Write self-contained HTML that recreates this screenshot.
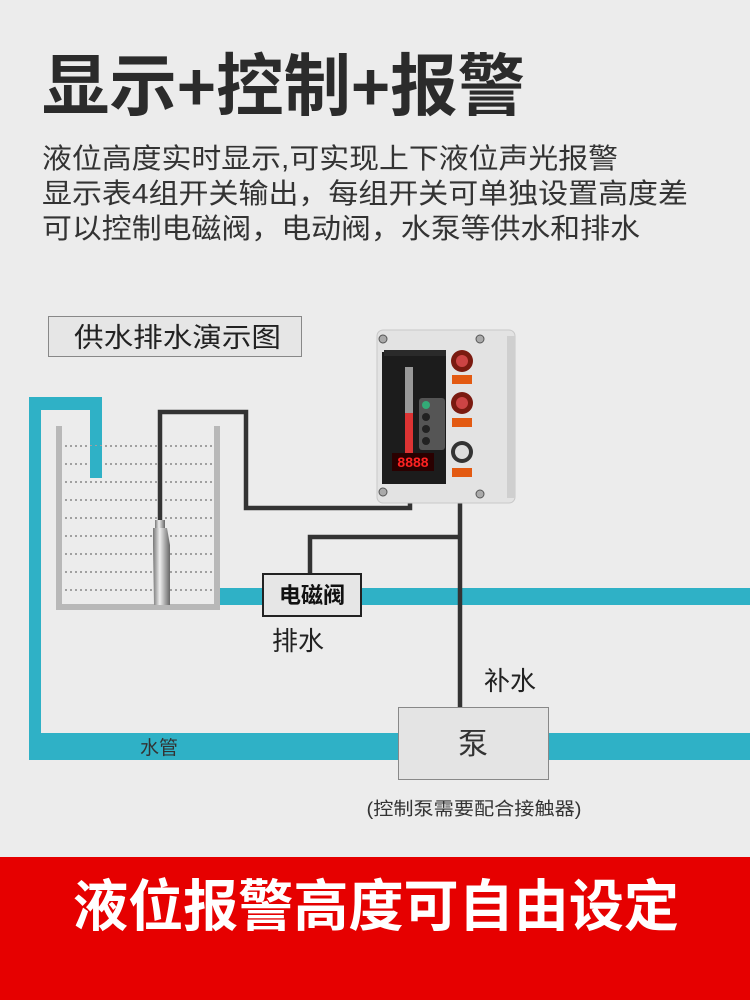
<!DOCTYPE html>
<html><head><meta charset="utf-8"><style>
html,body{margin:0;padding:0;background:#ececec;}
svg{display:block}
text{font-family:"Liberation Sans","Noto Sans CJK SC",sans-serif;}
</style></head><body>
<svg width="750" height="1000" viewBox="0 0 750 1000" xmlns="http://www.w3.org/2000/svg">
<rect width="750" height="1000" fill="#ececec"/>
<text x="42" y="110" font-size="68" font-weight="bold" fill="#2b2b2b" textLength="483" lengthAdjust="spacingAndGlyphs">显示+控制+报警</text>
<g font-size="28" fill="#333">
<text x="42" y="168" textLength="576" lengthAdjust="spacingAndGlyphs">液位高度实时显示,可实现上下液位声光报警</text>
<text x="42" y="203" textLength="646" lengthAdjust="spacingAndGlyphs">显示表4组开关输出，每组开关可单独设置高度差</text>
<text x="42" y="238" textLength="598" lengthAdjust="spacingAndGlyphs">可以控制电磁阀，电动阀，水泵等供水和排水</text>
</g>
<rect x="48.5" y="316.5" width="253" height="40" fill="#e6e6e6" stroke="#888"/>
<text x="74" y="347" font-size="27" fill="#222" textLength="207" lengthAdjust="spacingAndGlyphs">供水排水演示图</text>

<!-- pipes -->
<g fill="#2fb1c6">
<rect x="29" y="397" width="12" height="363"/>
<rect x="29" y="397" width="73" height="13"/>
<rect x="90" y="397" width="12" height="81"/>
<rect x="29" y="733" width="721" height="27"/>
<rect x="215" y="588" width="535" height="17"/>
</g>
<!-- tank -->
<g fill="#b8b8b8">
<rect x="56" y="426" width="6" height="184"/>
<rect x="214" y="426" width="6" height="184"/>
<rect x="56" y="604" width="164" height="6"/>
</g>
<g stroke="#a0a0a0" stroke-width="2" stroke-dasharray="2 3">
<line x1="65" y1="446" x2="212" y2="446"/><line x1="65" y1="464" x2="212" y2="464"/>
<line x1="65" y1="482" x2="212" y2="482"/><line x1="65" y1="500" x2="212" y2="500"/>
<line x1="65" y1="518" x2="212" y2="518"/><line x1="65" y1="536" x2="212" y2="536"/>
<line x1="65" y1="554" x2="212" y2="554"/><line x1="65" y1="572" x2="212" y2="572"/>
<line x1="65" y1="590" x2="212" y2="590"/>
</g>
<rect x="90" y="446" width="12" height="32" fill="#2fb1c6"/>
<!-- wires -->
<g fill="none" stroke="#333" stroke-width="4.5">
<polyline points="160,522 160,412 246,412 246,508 410,508 410,495"/>
<polyline points="310,578 310,537 460,537"/>
<line x1="460" y1="498" x2="460" y2="707"/>
</g>
<!-- sensor -->
<defs><linearGradient id="mt" x1="0" x2="1"><stop offset="0" stop-color="#777"/><stop offset="0.4" stop-color="#eee"/><stop offset="1" stop-color="#666"/></linearGradient></defs>
<rect x="155" y="520" width="10" height="8" fill="url(#mt)"/>
<path d="M153 528 L167 528 L170 545 L170 605 L154 605 L153 545 Z" fill="url(#mt)"/>
<!-- valve -->
<rect x="263" y="574" width="98" height="42" fill="#e6e6e6" stroke="#222" stroke-width="2"/>
<text x="312" y="603" font-size="22" font-weight="bold" text-anchor="middle" fill="#111">电磁阀</text>
<text x="272" y="650" font-size="26" fill="#222">排水</text>
<text x="484" y="690" font-size="26" fill="#222">补水</text>
<text x="140" y="754" font-size="19" fill="#333">水管</text>
<!-- pump -->
<rect x="398.5" y="707.5" width="150" height="72" fill="#e4e4e4" stroke="#888"/>
<text x="473" y="754" font-size="30" text-anchor="middle" fill="#333">泵</text>
<text x="474" y="815" font-size="18" text-anchor="middle" fill="#333" textLength="215" lengthAdjust="spacingAndGlyphs">(控制泵需要配合接触器)</text>
<!-- control box -->
<rect x="377" y="330" width="138" height="173" rx="6" fill="#e3e3e3" stroke="#c8c8c8"/>
<rect x="507" y="336" width="8" height="162" fill="#cfcfcf"/>
<g fill="#aaa" stroke="#555"><circle cx="383" cy="339" r="4"/><circle cx="480" cy="339" r="4"/><circle cx="383" cy="492" r="4"/><circle cx="480" cy="494" r="4"/></g>
<rect x="382" y="352" width="64" height="132" fill="#1c1c1c"/>
<rect x="384" y="350" width="62" height="6" fill="#2a2a2a"/>
<rect x="405" y="367" width="8" height="88" fill="#999"/>
<rect x="405" y="413" width="8" height="42" fill="#d33"/>
<rect x="419" y="398" width="26" height="52" rx="3" fill="#555"/>
<g fill="#222"><circle cx="426" cy="405" r="4" fill="#3a7"/><circle cx="426" cy="417" r="4"/><circle cx="426" cy="429" r="4"/><circle cx="426" cy="441" r="4"/></g>
<rect x="392" y="453" width="42" height="18" fill="#2a0000"/>
<text x="413" y="467" font-size="14" font-weight="bold" fill="#f22" text-anchor="middle" font-family="Liberation Mono">8888</text>
<circle cx="462" cy="361" r="11" fill="#7a1a10"/><circle cx="462" cy="361" r="6" fill="#c44"/>
<rect x="452" y="375" width="20" height="9" fill="#e35a12"/>
<circle cx="462" cy="403" r="11" fill="#7a1a10"/><circle cx="462" cy="403" r="6" fill="#c44"/>
<rect x="452" y="418" width="20" height="9" fill="#e35a12"/>
<circle cx="462" cy="452" r="11" fill="#333"/><circle cx="462" cy="452" r="7" fill="#ddd"/>
<rect x="452" y="468" width="20" height="9" fill="#e35a12"/>
<!-- red band -->
<rect x="0" y="857" width="750" height="143" fill="#e60000"/>
<text x="376" y="926" font-size="56" font-weight="bold" fill="#fff" text-anchor="middle" textLength="606" lengthAdjust="spacingAndGlyphs">液位报警高度可自由设定</text>
</svg>
</body></html>
